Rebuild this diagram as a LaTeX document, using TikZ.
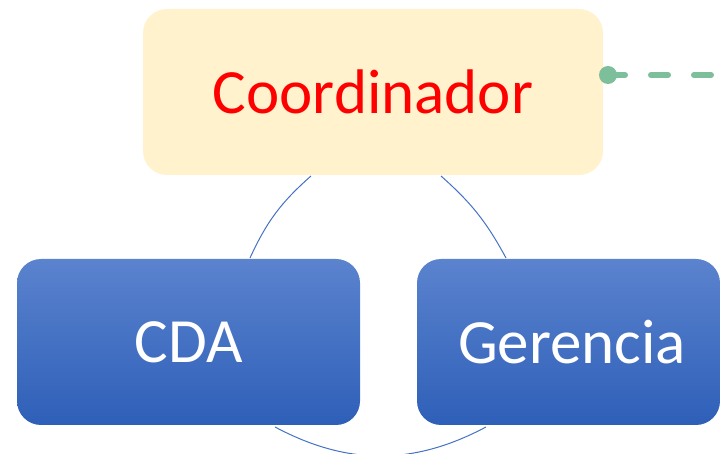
\documentclass[tikz,border=0pt]{standalone}
\usepackage{fontspec}
\setmainfont{Carlito}
\definecolor{cream}{HTML}{FFF2CC}
\definecolor{blueTop}{HTML}{5B83CE}
\definecolor{blueBot}{HTML}{2E5FB8}
\definecolor{ringblue}{HTML}{4472C4}
\definecolor{linkgreen}{RGB}{125,190,155}
\begin{document}
\begin{tikzpicture}[x=1pt,y=1pt,
  box/.style={rounded corners=24pt, inner sep=0pt, font=\fontsize{63}{70}\selectfont},
  bluebox/.style={box, top color=blueTop, bottom color=blueBot, text=white},
  ring/.style={draw=ringblue, line width=1pt},
  link/.style={draw=linkgreen, line width=6pt, line cap=round, dash pattern=on 17pt off 26pt}]
\useasboundingbox (0,0) rectangle (721,-454);
\node[box, fill=cream, text=red, minimum width=460pt, minimum height=166pt] (coord) at (373,-92) {Coordinador};
\node[bluebox, minimum width=343pt, minimum height=166pt] (cda) at (188.5,-342) {CDA};
\node[bluebox, minimum width=303pt, minimum height=166pt] (ger) at (568.5,-342) {\hspace*{7pt}Gerencia};
\coordinate (a1) at (311,-176);
\coordinate (a2) at (250,-258);
\coordinate (b1) at (441,-176);
\coordinate (b2) at (506,-258);
\coordinate (c1) at (275,-427);
\coordinate (c2) at (486,-427);
\draw[ring] (a1) to[bend right=12] (a2);
\draw[ring] (b1) to[bend left=10] (b2);
\draw[ring] (c1) to[bend right=28] (c2);
\coordinate (dot) at (608,-75);
\coordinate (far) at (740,-75);
\draw[link] (dot) -- (far);
\fill[linkgreen] (dot) circle (9pt);
\end{tikzpicture}
\end{document}
